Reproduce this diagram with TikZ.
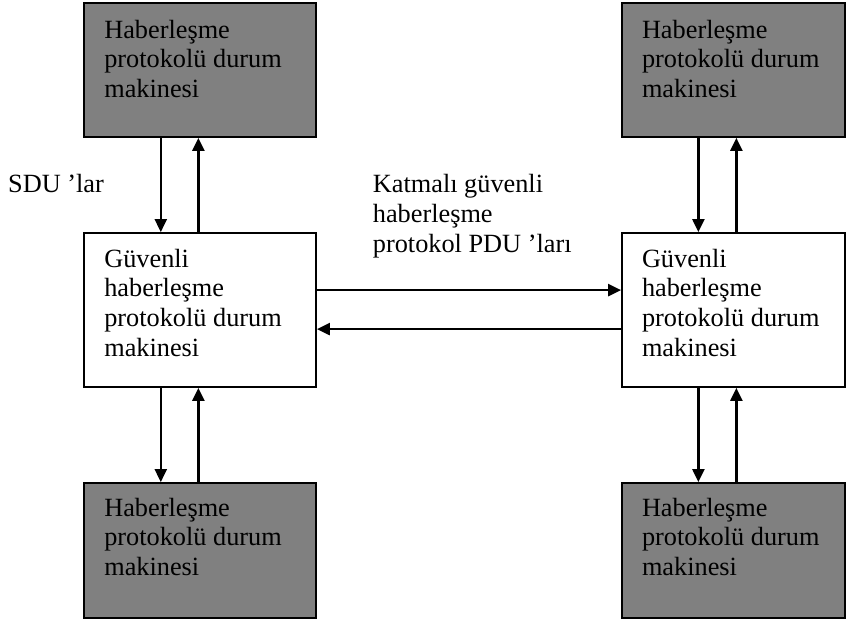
\documentclass[tikz,border=0pt]{standalone}
\usepackage{fontspec}
\setmainfont{Liberation Serif}
\usetikzlibrary{arrows.meta}
\definecolor{machinegray}{HTML}{808080}
\tikzset{
  box/.style={draw=black, line width=1.8pt, rectangle, inner sep=0pt},
  darkbox/.style={box, fill=machinegray},
  lightbox/.style={box, fill=white},
  txt/.style={anchor=base west, inner sep=0pt, font=\fontsize{26.3}{29.8}\selectfont},
  arr/.style={line width=2.4pt, -{Triangle[length=13pt,width=12pt]}}
}
\newcommand{\boxtext}[1]{\parbox[t]{240pt}{\raggedright #1}}
\begin{document}
\begin{tikzpicture}[x=1pt,y=1pt]
\useasboundingbox (0,0) rectangle (846,623);

% left column of state machines
\node[darkbox,  minimum width=232pt, minimum height=134pt] (tl) at (200,553) {};
\node[lightbox, minimum width=232pt, minimum height=154pt] (ml) at (200,313) {};
\node[darkbox,  minimum width=232pt, minimum height=135pt] (bl) at (200,72.5) {};

% right column of state machines
\node[darkbox,  minimum width=223pt, minimum height=134pt] (tr) at (733.5,553) {};
\node[lightbox, minimum width=223pt, minimum height=154pt] (mr) at (733.5,313) {};
\node[darkbox,  minimum width=223pt, minimum height=135pt] (br) at (733.5,72.5) {};

% box texts
\node[txt] (tltext) at ([xshift=21pt,yshift=-36pt]tl.north west) {\boxtext{Haberleşme\\protokolü durum\\makinesi}};
\node[txt] (mltext) at ([xshift=21pt,yshift=-35pt]ml.north west) {\boxtext{Güvenli\\haberleşme\\protokolü durum\\makinesi}};
\node[txt] (bltext) at ([xshift=21pt,yshift=-34pt]bl.north west) {\boxtext{Haberleşme\\protokolü durum\\makinesi}};
\node[txt] (trtext) at ([xshift=20.7pt,yshift=-36pt]tr.north west) {\boxtext{Haberleşme\\protokolü durum\\makinesi}};
\node[txt] (mrtext) at ([xshift=20.7pt,yshift=-35pt]mr.north west) {\boxtext{Güvenli\\haberleşme\\protokolü durum\\makinesi}};
\node[txt] (brtext) at ([xshift=20.7pt,yshift=-34pt]br.north west) {\boxtext{Haberleşme\\protokolü durum\\makinesi}};

% free labels
\node[txt] (sdu) at (8,430) {SDU ’lar};
\node[txt] (pdu) at (372.7,430) {\boxtext{Katmalı güvenli\\haberleşme\\protokol PDU ’ları}};

% vertical links, left
\draw[arr] ([xshift=77.7pt]tl.south west) -- ([xshift=77.7pt]ml.north west);
\draw[arr] ([xshift=115.3pt]ml.north west) -- ([xshift=115.3pt]tl.south west);
\draw[arr] ([xshift=77.7pt]ml.south west) -- ([xshift=77.7pt]bl.north west);
\draw[arr] ([xshift=115.3pt]bl.north west) -- ([xshift=115.3pt]ml.south west);

% vertical links, right
\draw[arr] ([xshift=77.3pt]tr.south west) -- ([xshift=77.3pt]mr.north west);
\draw[arr] ([xshift=115.3pt]mr.north west) -- ([xshift=115.3pt]tr.south west);
\draw[arr] ([xshift=77.3pt]mr.south west) -- ([xshift=77.3pt]br.north west);
\draw[arr] ([xshift=115.3pt]br.north west) -- ([xshift=115.3pt]mr.south west);

% horizontal links between the two middle machines
\draw[arr] ([yshift=-58pt]ml.north east) -- ([yshift=-58pt]mr.north west);
\draw[arr] ([yshift=-97pt]mr.north west) -- ([yshift=-97pt]ml.north east);
\end{tikzpicture}
\end{document}
